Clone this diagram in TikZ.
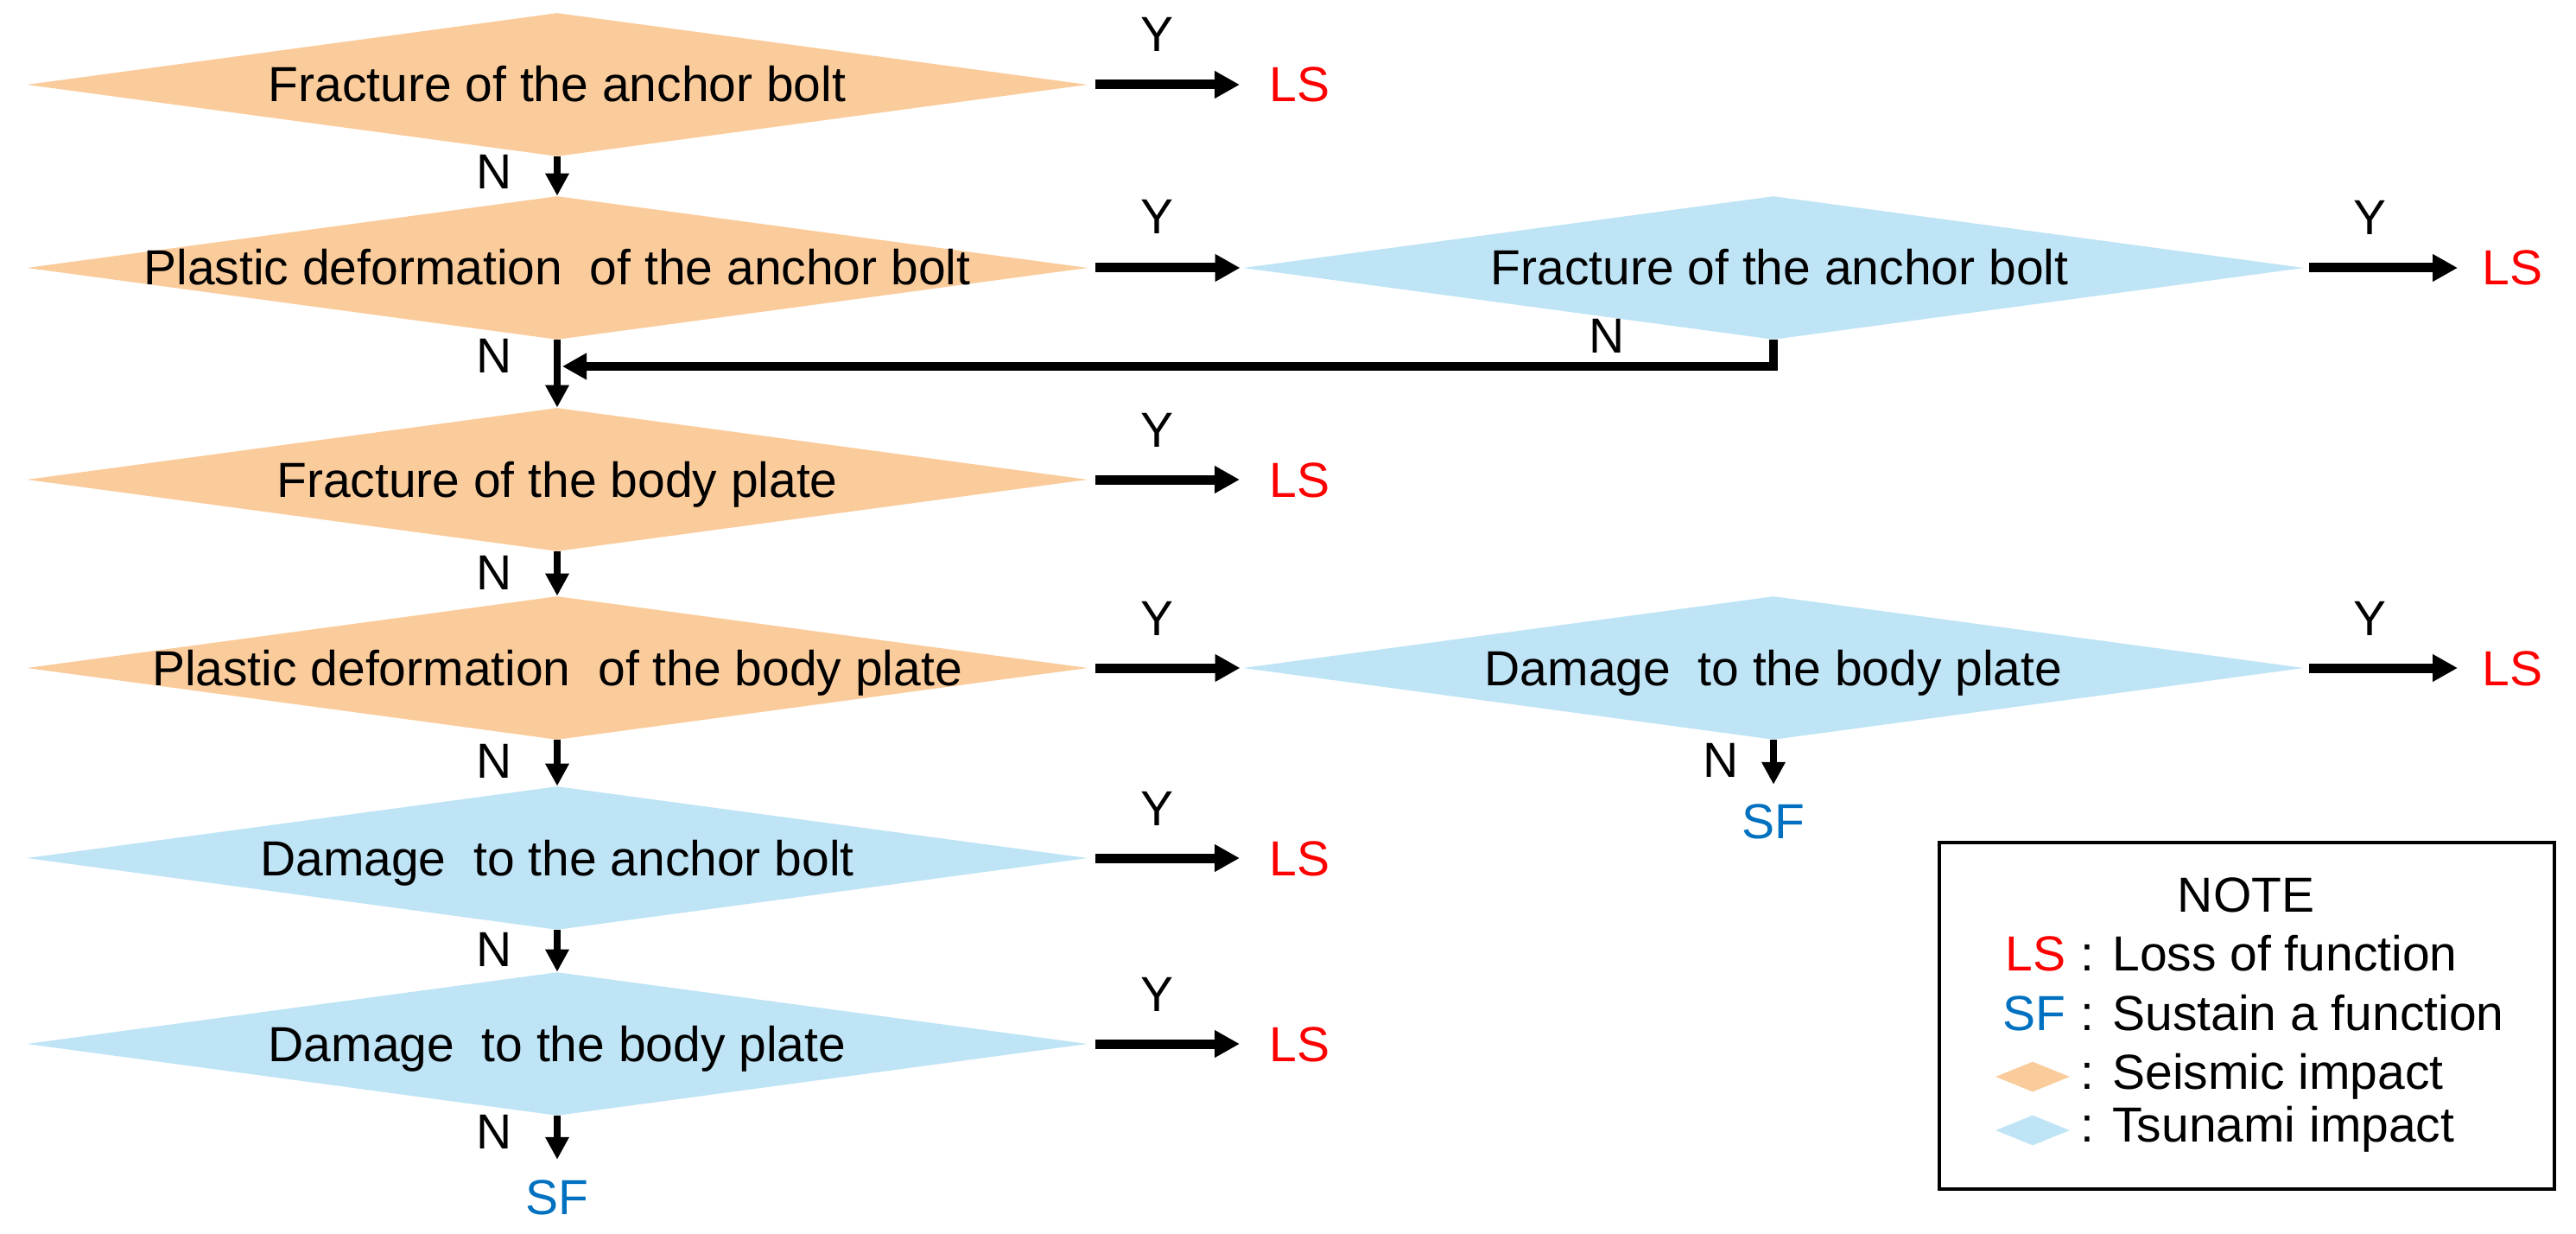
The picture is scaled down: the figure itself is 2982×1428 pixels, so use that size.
\documentclass[tikz,border=0pt]{standalone}
\usepackage{fontspec}
\setmainfont{Liberation Sans}
\usetikzlibrary{shapes.geometric,arrows.meta}
\definecolor{seis}{RGB}{250,203,155}
\definecolor{tsun}{RGB}{190,228,246}
\definecolor{lsred}{RGB}{255,0,0}
\definecolor{sfblue}{RGB}{0,112,192}
\begin{document}
\begin{tikzpicture}[x=0.5pt,y=-0.5pt,
  dia/.style={diamond, minimum width=614pt, minimum height=83pt, inner sep=0pt, draw=none},
  sdia/.style={dia, fill=seis},
  tdia/.style={dia, fill=tsun},
  lbl/.style={font=\fontsize{28.5}{34}\selectfont, inner sep=0pt, anchor=base},
  lsnode/.style={lbl, text=lsred, anchor=base west},
  sfnode/.style={lbl, text=sfblue},
  bigarrow/.style={line width=5.5pt, -{Triangle[length=14.5pt,width=15pt]}},
  smallarrow/.style={line width=4pt, -{Triangle[length=13pt,width=13pt]}},
  legdia/.style={diamond, minimum width=43pt, minimum height=17.5pt, inner sep=0pt, draw=none}
]
\useasboundingbox (0,0) rectangle (2982,1428);

% left column diamonds
\node[sdia] (d1) at (645,98) {};
\node[sdia] (d2) at (645,310) {};
\node[sdia] (d3) at (645,555) {};
\node[sdia] (d4) at (645,773) {};
\node[tdia] (d5) at (645,993) {};
\node[tdia] (d6) at (645,1208) {};
% right column diamonds
\node[tdia] (d7) at (2053,310) {};
\node[tdia] (d8) at (2053,773) {};

% diamond texts
\node[lbl] (t1) at (645,118) {Fracture of the anchor bolt};
\node[lbl] (t2) at (645,330) {Plastic deformation\ \ of the anchor bolt};
\node[lbl] (t3) at (645,575) {Fracture of the body plate};
\node[lbl] (t4) at (645,793) {Plastic deformation\ \ of the body plate};
\node[lbl] (t5) at (645,1013) {Damage\ \ to the anchor bolt};
\node[lbl] (t6) at (645,1228) {Damage\ \ to the body plate};
\node[lbl] (t7) at (2060,330) {Fracture of the anchor bolt};
\node[lbl] (t8) at (2053,793) {Damage\ \ to the body plate};

% LS and SF outcomes
\node[lsnode] (ls1) at (1469,118) {LS};
\node[lsnode] (ls3) at (1469,575) {LS};
\node[lsnode] (ls5) at (1469,1013) {LS};
\node[lsnode] (ls6) at (1469,1228) {LS};
\node[lsnode] (ls7) at (2873,330) {LS};
\node[lsnode] (ls8) at (2873,793) {LS};
\node[sfnode] (sf1) at (645,1405) {SF};
\node[sfnode] (sf2) at (2053,970) {SF};

% Y labels
\node[lbl] (y1) at (1339,60) {Y};
\node[lbl] (y2) at (1339,271) {Y};
\node[lbl] (y3) at (1339,517) {Y};
\node[lbl] (y4) at (1339,735) {Y};
\node[lbl] (y5) at (1339,955) {Y};
\node[lbl] (y6) at (1339,1170) {Y};
\node[lbl] (y7) at (2743,272) {Y};
\node[lbl] (y8) at (2743,735) {Y};

% N labels
\node[lbl] (n1) at (572,219) {N};
\node[lbl] (n2) at (572,431) {N};
\node[lbl] (n3) at (572,682) {N};
\node[lbl] (n4) at (572,900) {N};
\node[lbl] (n5) at (572,1118) {N};
\node[lbl] (n6) at (572,1329) {N};
\node[lbl] (n7) at (1860,409) {N};
\node[lbl] (n8) at (1992,899) {N};

% Y arrows
\draw[bigarrow, shorten <=4.5pt, shorten >=17pt] (d1.east) -- (d1.east -| ls1.west);
\draw[bigarrow, shorten <=4.5pt, shorten >=1.5pt] (d2.east) -- (d7.west);
\draw[bigarrow, shorten <=4.5pt, shorten >=17pt] (d3.east) -- (d3.east -| ls3.west);
\draw[bigarrow, shorten <=4.5pt, shorten >=1.5pt] (d4.east) -- (d8.west);
\draw[bigarrow, shorten <=4.5pt, shorten >=17pt] (d5.east) -- (d5.east -| ls5.west);
\draw[bigarrow, shorten <=4.5pt, shorten >=17pt] (d6.east) -- (d6.east -| ls6.west);
\draw[bigarrow, shorten <=3pt, shorten >=14pt] (d7.east) -- (d7.east -| ls7.west);
\draw[bigarrow, shorten <=3pt, shorten >=14pt] (d8.east) -- (d8.east -| ls8.west);

% N arrows
\draw[smallarrow] (d1.south) -- (d2.north);
\draw[smallarrow] (d2.south) -- (d3.north);
\draw[smallarrow] (d3.south) -- (d4.north);
\draw[smallarrow] (d4.south) -- (d5.north);
\draw[smallarrow] (d5.south) -- (d6.north);
\draw[smallarrow, shorten >=11.5pt] (d6.south) -- (sf1.north);
\draw[smallarrow, shorten >=11pt] (d8.south) -- (sf2.north);

% return from right fracture diamond
\coordinate (jn) at (651,424);
\draw[line width=5pt, -{Triangle[length=14pt,width=14.5pt]}] (d7.south) |- (jn);

% legend
\node[draw, line width=2pt, minimum width=356pt, minimum height=200.5pt, inner sep=0pt] (legend) at (2601,1175.5) {};
\node[lbl] (note) at (2600,1055) {NOTE};
\node[lbl, text=lsred, anchor=base east] (lgls) at (2392,1123) {LS};
\node[lbl, anchor=base west] (lglst) at (2408,1123) {: Loss of function};
\node[lbl, text=sfblue, anchor=base east] (lgsf) at (2392,1192) {SF};
\node[lbl, anchor=base west] (lgsft) at (2408,1192) {: Sustain a function};
\node[legdia, fill=seis] (lgsd) at (2353,1246) {};
\node[lbl, anchor=base west] (lgsdt) at (2408,1260) {: Seismic impact};
\node[legdia, fill=tsun] (lgtd) at (2353,1308) {};
\node[lbl, anchor=base west] (lgtdt) at (2408,1321) {: Tsunami impact};
\end{tikzpicture}
\end{document}
